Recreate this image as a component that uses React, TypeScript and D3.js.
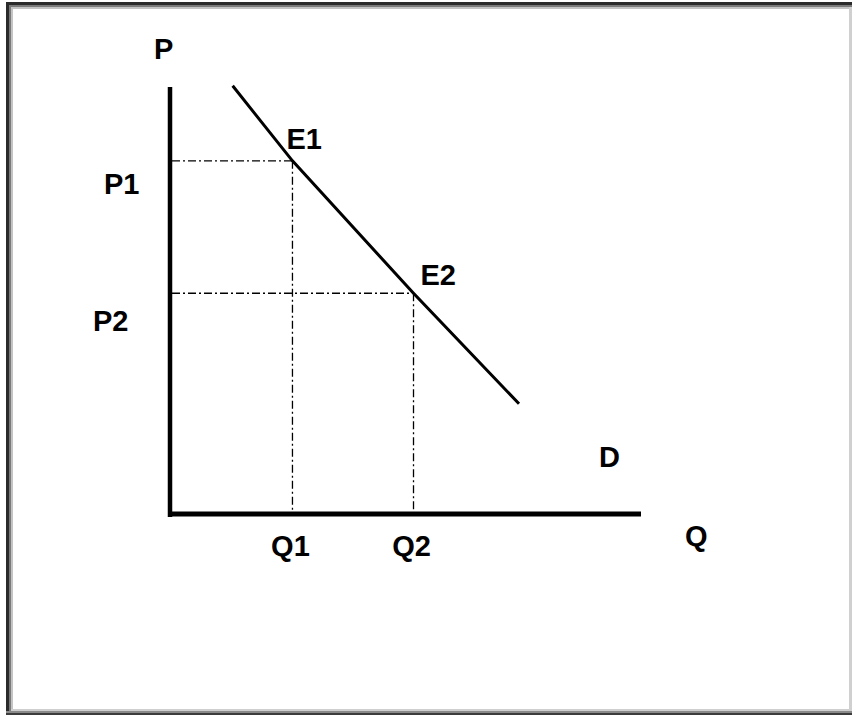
import React from "react";
import * as d3 from "d3";

// Demand curve points (quantity, price) in chart units
const demandQ = [13.3, 26.0, 51.7, 74.1];
const demandP = [100.3, 82.7, 51.7, 25.8];

// Equilibrium points
const pointNames = ["E1", "E2"];
const pointQ = [26.0, 51.7];
const pointP = [82.7, 51.7];
const qLabels = ["Q1", "Q2"];
const pLabels = ["P1", "P2"];

const axisLabels = ["P", "Q"];
const curveLabel = "D";

const W = 852;
const H = 715;

export default function App() {
  const x = d3.scaleLinear().domain([0, 100]).range([170, 641]);
  const y = d3.scaleLinear().domain([0, 100]).range([514, 87]);

  const pts: [number, number][] = demandQ.map((q, i) => [q, demandP[i]]);
  const line = d3
    .line<[number, number]>()
    .x((d) => x(d[0]))
    .y((d) => y(d[1]));

  const font = "'Liberation Sans', Arial, sans-serif";
  const fs = 29;
  const dash = "8 3 2 3";

  return (
    <svg
      width={W}
      height={H}
      style={{ position: "absolute", left: 0, top: 0, display: "block" }}
    >
      <rect x={0} y={0} width={W} height={H} fill="#ffffff" />
      {/* sunken frame */}
      <rect x={6} y={2} width={846} height={3} fill="#2b2b2b" />
      <rect x={6} y={2} width={3} height={711} fill="#2b2b2b" />
      <rect x={9} y={5} width={843} height={2} fill="#7a7a7a" />
      <rect x={9} y={5} width={2} height={706} fill="#7a7a7a" />
      <rect x={11} y={7} width={841} height={2} fill="#c4c4c4" />
      <rect x={11} y={7} width={2} height={703} fill="#c4c4c4" />
      <rect x={849} y={7} width={3} height={704} fill="#d0d0d0" />
      <rect x={11} y={709} width={841} height={2} fill="#cfcfcf" />
      <rect x={6} y={711} width={846} height={2} fill="#8a8a8a" />
      <rect x={6} y={713} width={846} height={2} fill="#3c3c3c" />

      {/* guide lines */}
      {pointQ.map((q, i) => (
        <g key={pointNames[i]} stroke="#000" strokeWidth={1.3} strokeDasharray={dash} fill="none">
          <line x1={x(0) + 2} x2={x(q)} y1={y(pointP[i])} y2={y(pointP[i])} />
          <line x1={x(q)} x2={x(q)} y1={y(pointP[i])} y2={y(0) - 2} />
        </g>
      ))}

      {/* axes */}
      <line x1={x(0)} x2={x(0)} y1={y(100)} y2={y(0) + 3} stroke="#000" strokeWidth={4.5} />
      <line x1={x(0) - 2} x2={x(100)} y1={y(0)} y2={y(0)} stroke="#000" strokeWidth={5} />

      {/* demand curve */}
      <path d={line(pts) ?? ""} fill="none" stroke="#000" strokeWidth={3} />

      <g fontFamily={font} fontWeight="bold" fontSize={fs} fill="#000">
        <text x={x(0) - 16} y={59}>{axisLabels[0]}</text>
        <text x={x(100) + 44} y={546}>{axisLabels[1]}</text>
        <text x={599} y={467}>{curveLabel}</text>
        {pointNames.map((n, i) => (
          <text key={n} x={x(pointQ[i]) + (i === 0 ? -6 : 7)} y={y(pointP[i]) - (i === 0 ? 12 : 8)}>
            {n}
          </text>
        ))}
        {qLabels.map((n, i) => (
          <text key={n} x={x(pointQ[i]) - 2} y={556} textAnchor="middle">
            {n}
          </text>
        ))}
        {pLabels.map((n, i) => (
          <text key={n} x={i === 0 ? 104 : 93} y={y(pointP[i]) + (i === 0 ? 33 : 38)}>
            {n}
          </text>
        ))}
      </g>
    </svg>
  );
}
